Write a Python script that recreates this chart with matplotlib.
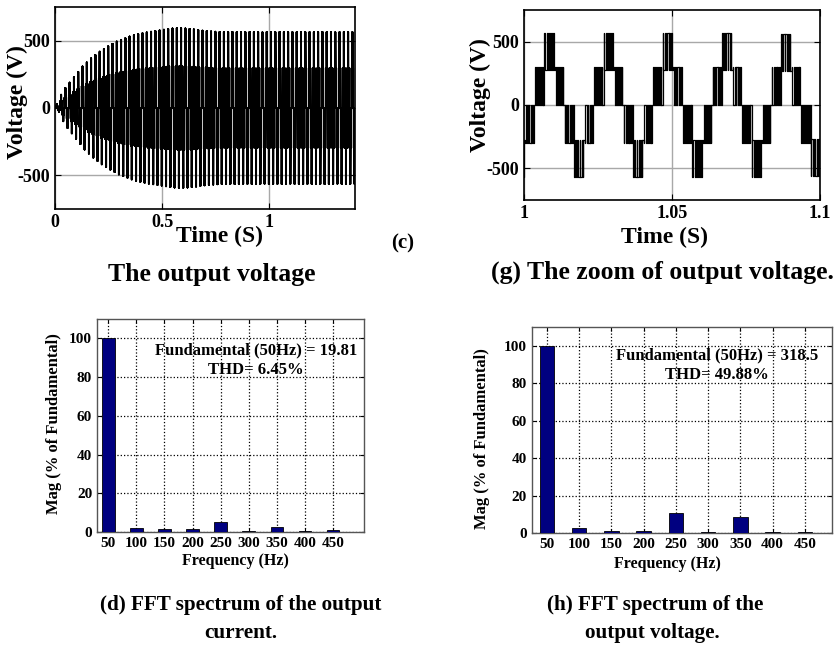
import numpy as np
import matplotlib.pyplot as plt

plt.rcParams['font.family'] = 'Liberation Serif'
plt.rcParams['font.weight'] = 'bold'
plt.rcParams['axes.labelweight'] = 'bold'
plt.rcParams['axes.unicode_minus'] = False

## Output voltage of the inverter
# peak value of each 50 Hz cycle (V)
cycle_peak = [30, 100, 150, 190, 230, 270, 310, 340, 370, 395,
              420, 440, 460, 478, 495, 508, 520, 532, 542, 550,
              557, 563, 568, 573, 578, 583, 588, 592, 594, 594,
              592, 589, 585, 580, 576, 573, 570, 568, 566, 565,
              565, 566, 565, 564, 565, 566, 565, 565, 564, 566,
              565, 565, 566, 565, 564, 565, 565, 566, 565, 565,
              564, 565, 566, 565, 565, 564, 565, 566, 565, 565]
period = 0.02
t_first = 0.0037
# one cycle of the staircase (fraction of period, levels in V at 570 V peak)
seg_start = [0.00, 0.16, 0.34, 0.50, 0.66, 0.84]
seg_end = [0.16, 0.34, 0.50, 0.66, 0.84, 1.00]
seg_base = [0, 275, 0, 0, -275, 0]
seg_pulse = [300, 570, 300, -300, -570, -300]
level_peak = 570
pulse_duty = [0.3, 0.55, 0.7, 0.55, 0.3]

## FFT spectra
freq = [50, 100, 150, 200, 250, 300, 350, 400, 450]
mag_current = [100, 2.3, 1.8, 1.3, 5.0, 0.4, 2.7, 0.3, 0.9]
mag_voltage = [100, 2.5, 1.0, 1.0, 10.5, 0.4, 8.8, 0.4, 0.4]

# build the switched waveform
tt, vv = [0.0], [0.0]
npulse = len(pulse_duty)
for k, pk in enumerate(cycle_peak):
    s = pk / level_peak
    t0 = t_first + k * period
    for p0, p1, lo, hi in zip(seg_start, seg_end, seg_base, seg_pulse):
        w = (p1 - p0) / npulse * period
        for j, d in enumerate(pulse_duty):
            ta = t0 + p0 * period + j * w
            tt += [ta, ta + d * w]
            vv += [hi * s, lo * s]
tt = np.array(tt)
vv = np.array(vv)

fig = plt.figure(figsize=(8.4, 6.48), dpi=100)

def style_top(ax):
    ax.grid(True, color='#a8a8a8', lw=1.0)
    ax.set_axisbelow(True)
    ax.tick_params(direction='in', top=True, right=True, labelsize=13, length=4)
    for sp in ax.spines.values():
        sp.set_linewidth(1.2)

ax1 = fig.add_axes([0.0655, 0.6775, 0.357, 0.3117])
ax1.plot(tt, vv, drawstyle='steps-post', color='k', lw=1.0)
ax1.set_xlim(0, 1.4)
ax1.set_ylim(-750, 750)
ax1.set_xticks([0, 0.5, 1])
ax1.set_xticklabels(['0', '0.5', '1'])
ax1.set_yticks([-500, 0, 500])
style_top(ax1)
ax1.set_xlabel('Time (S)', fontsize=17)
ax1.xaxis.set_label_coords(0.55, -0.085)
ax1.set_ylabel('Voltage (V)', fontsize=17)
ax1.yaxis.set_label_coords(-0.09, 0.53)

ax2 = fig.add_axes([0.6238, 0.6914, 0.3524, 0.2932])
sel = (tt > 0.97) & (tt < 1.13)
ax2.plot(tt[sel], vv[sel], drawstyle='steps-post', color='k', lw=0.9)
ax2.set_xlim(1, 1.1)
ax2.set_ylim(-750, 750)
ax2.set_xticks([1, 1.05, 1.1])
ax2.set_xticklabels(['1', '1.05', '1.1'])
ax2.set_yticks([-500, 0, 500])
style_top(ax2)
ax2.set_xlabel('Time (S)', fontsize=17)
ax2.xaxis.set_label_coords(0.476, -0.14)
ax2.set_ylabel('Voltage (V)', fontsize=17)
ax2.yaxis.set_label_coords(-0.11, 0.55)

def style_bot(ax, mags, xlim, fund, thd, txy, lxy, xl):
    ax.bar(freq, mags, width=22.5, color='#000080', edgecolor='black', lw=0.6, zorder=3)
    ax.set_xlim(*xlim)
    ax.set_ylim(0, 110)
    ax.set_xticks(freq)
    ax.set_yticks(range(0, 101, 20))
    ax.grid(True, color='k', ls=':', lw=0.9)
    ax.set_axisbelow(True)
    ax.tick_params(direction='in', top=True, right=True, labelsize=11, length=3)
    for sp in ax.spines.values():
        sp.set_linewidth(1.0)
        sp.set_color('#555555')
    ax.text(txy[0], txy[1], 'Fundamental (50Hz) = ' + fund, transform=ax.transAxes,
            ha='center', va='center', fontsize=12)
    ax.text(txy[0], txy[1] - 0.095, 'THD= ' + thd, transform=ax.transAxes,
            ha='center', va='center', fontsize=12)
    ax.set_xlabel('Frequency (Hz)', fontsize=11.5)
    ax.xaxis.set_label_coords(xl[0], xl[1])
    ax.set_ylabel('Mag (% of Fundamental)', fontsize=12)
    ax.yaxis.set_label_coords(lxy[0], lxy[1])

ax3 = fig.add_axes([0.1155, 0.179, 0.3179, 0.3287])
style_bot(ax3, mag_current, (30, 505), '19.81', '6.45%', (0.595, 0.855), (-0.131, 0.51), (0.517, -0.1))

ax4 = fig.add_axes([0.6333, 0.1775, 0.3571, 0.3179])
style_bot(ax4, mag_voltage, (27, 492), '318.5', '49.88%', (0.617, 0.86), (-0.14, 0.46), (0.453, -0.11))

fig.text(403 / 840, 1 - 243 / 648, '(c)', ha='center', va='center', fontsize=15)
fig.text(212 / 840, 1 - 275 / 648, 'The output voltage', ha='center', va='center', fontsize=18.5)
fig.text(662 / 840, 1 - 272 / 648, '(g) The zoom of output voltage.', ha='center', va='center', fontsize=18.5)
fig.text(241 / 840, 1 - 605 / 648, '(d) FFT spectrum of the output', ha='center', va='center', fontsize=15.2)
fig.text(241 / 840, 1 - 633 / 648, 'current.', ha='center', va='center', fontsize=15.2)
fig.text(655 / 840, 1 - 605 / 648, '(h) FFT spectrum of the', ha='center', va='center', fontsize=15.2)
fig.text(652 / 840, 1 - 633 / 648, 'output voltage.', ha='center', va='center', fontsize=15.2)

fig.savefig('out.png', dpi=100)
